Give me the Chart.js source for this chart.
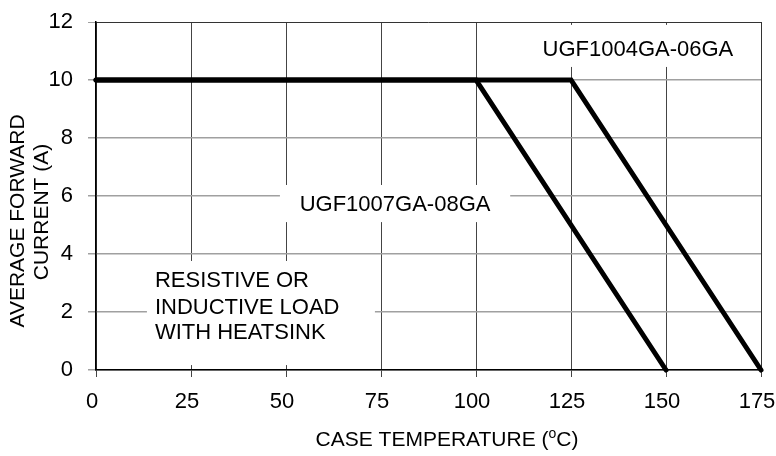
<!DOCTYPE html>
<html>
<head>
<meta charset="utf-8">
<script src="https://cdn.jsdelivr.net/npm/chart.js@4/dist/chart.umd.min.js"></script>
<style>
  html, body { margin: 0; padding: 0; background: #fff; }
  #wrap { width: 776px; height: 456px; }
</style>
</head>
<body>
<div id="wrap"><canvas id="c" width="776" height="456"></canvas></div>
<script>
// ---- data ----
const xTickValues = [0, 25, 50, 75, 100, 125, 150, 175];
const yTickValues = [0, 2, 4, 6, 8, 10, 12];
const seriesNames = ['UGF1004GA-06GA', 'UGF1007GA-08GA'];
const tempA = [0, 125, 175];   // UGF1004GA-06GA
const currA = [10, 10, 0];
const tempB = [0, 100, 150];   // UGF1007GA-08GA
const currB = [10, 10, 0];
const xTitleMain = 'CASE TEMPERATURE (';
const xTitleSup = 'o';
const xTitleEnd = 'C)';
const yTitleLines = ['AVERAGE FORWARD', 'CURRENT (A)'];
const noteLines = ['RESISTIVE OR', 'INDUCTIVE LOAD', 'WITH HEATSINK'];

const FONT = "'Liberation Sans', Arial, Helvetica, sans-serif";

const annotations = {
  id: 'annotations',
  beforeDatasetsDraw(chart) {
    const ctx = chart.ctx, xs = chart.scales.x, ys = chart.scales.y;
    const X = v => xs.getPixelForValue(v), Y = v => ys.getPixelForValue(v);
    ctx.save();
    ctx.fillStyle = '#fff';
    // white label backgrounds (in data units)
    const boxes = [
      [48.4, 109, 6.38, 5.1],
      [115.5, 170, 11.9, 10.45],
      [13.4, 73.4, 3.76, 0.17]
    ];
    boxes.forEach(b => {
      ctx.fillRect(X(b[0]), Y(b[2]), X(b[1]) - X(b[0]), Y(b[3]) - Y(b[2]));
    });
    ctx.fillStyle = '#000';
    ctx.font = '22px ' + FONT;
    ctx.textBaseline = 'middle';
    ctx.textAlign = 'center';
    ctx.fillText(seriesNames[1], X(78.7), Y(5.69));
    ctx.fillText(seriesNames[0], X(142.6), Y(11.03));
    ctx.textAlign = 'left';
    const noteY = [3.07, 2.14, 1.28];
    noteLines.forEach((t, i) => ctx.fillText(t, X(15.5), Y(noteY[i])));
    ctx.restore();
  },
  afterDraw(chart) {
    const ctx = chart.ctx;
    ctx.save();
    ctx.fillStyle = '#000';
    ctx.textBaseline = 'middle';
    // x axis title with superscript o
    const big = '21px ' + FONT, small = '14px ' + FONT;
    ctx.font = big;
    const w1 = ctx.measureText(xTitleMain).width;
    const w3 = ctx.measureText(xTitleEnd).width;
    ctx.font = small;
    const w2 = ctx.measureText(xTitleSup).width;
    const cx = 447;
    let x0 = cx - (w1 + w2 + w3) / 2;
    const ty = 440;
    ctx.textAlign = 'left';
    ctx.font = big;
    ctx.fillText(xTitleMain, x0, ty);
    ctx.font = small;
    ctx.fillText(xTitleSup, x0 + w1, ty - 6);
    ctx.font = big;
    ctx.fillText(xTitleEnd, x0 + w1 + w2, ty);
    // y axis title, two rotated lines
    ctx.textAlign = 'center';
    const yPos = [[18, 221], [42, 212]];
    yTitleLines.forEach((t, i) => {
      ctx.save();
      ctx.translate(yPos[i][0], yPos[i][1]);
      ctx.rotate(-Math.PI / 2);
      ctx.fillText(t, 0, 0);
      ctx.restore();
    });
    ctx.restore();
  }
};

new Chart(document.getElementById('c'), {
  type: 'scatter',
  data: {
    datasets: [
      {
        label: seriesNames[0],
        data: tempA.map((t, i) => ({ x: t, y: currA[i] })),
        showLine: true, borderColor: '#000', borderWidth: 5,
        pointRadius: 0, borderCapStyle: 'round', borderJoinStyle: 'miter', clip: false
      },
      {
        label: seriesNames[1],
        data: tempB.map((t, i) => ({ x: t, y: currB[i] })),
        showLine: true, borderColor: '#000', borderWidth: 5,
        pointRadius: 0, borderCapStyle: 'round', borderJoinStyle: 'miter', clip: false
      }
    ]
  },
  options: {
    responsive: false,
    animation: false,
    devicePixelRatio: 1,
    layout: { padding: { left: 0, top: 22, right: 15, bottom: 0 } },
    plugins: { legend: { display: false }, tooltip: { enabled: false }, title: { display: false } },
    scales: {
      x: {
        type: 'linear', min: 0, max: 175,
        afterBuildTicks: s => { s.ticks = xTickValues.map(v => ({ value: v })); },
        afterFit: s => { s.height = 86; s.paddingLeft = 0; s.paddingRight = 0; },
        grid: {
          color: c => (c.tick && c.tick.value === 175) ? '#333' : '#444',
          lineWidth: 1, tickLength: 7, tickColor: '#444'
        },
        border: { color: '#000', width: 1.5 },
        ticks: { color: '#000', font: { family: FONT, size: 22 }, padding: 12, maxRotation: 0, labelOffset: -4 },
        title: { display: false }
      },
      y: {
        type: 'linear', min: 0, max: 12,
        afterBuildTicks: s => { s.ticks = yTickValues.map(v => ({ value: v })); },
        afterFit: s => { s.width = 96; s.paddingTop = 0; s.paddingBottom = 0; },
        grid: {
          color: c => (c.tick && c.tick.value === 12) ? '#333' : '#a0a0a0',
          lineWidth: c => (c.tick && c.tick.value === 12) ? 1 : 1.5,
          tickLength: 8, tickColor: '#a0a0a0'
        },
        border: { color: '#000', width: 1.5 },
        ticks: { color: '#000', font: { family: FONT, size: 22 }, padding: 15 },
        title: { display: false }
      }
    }
  },
  plugins: [annotations]
});
</script>
</body>
</html>
